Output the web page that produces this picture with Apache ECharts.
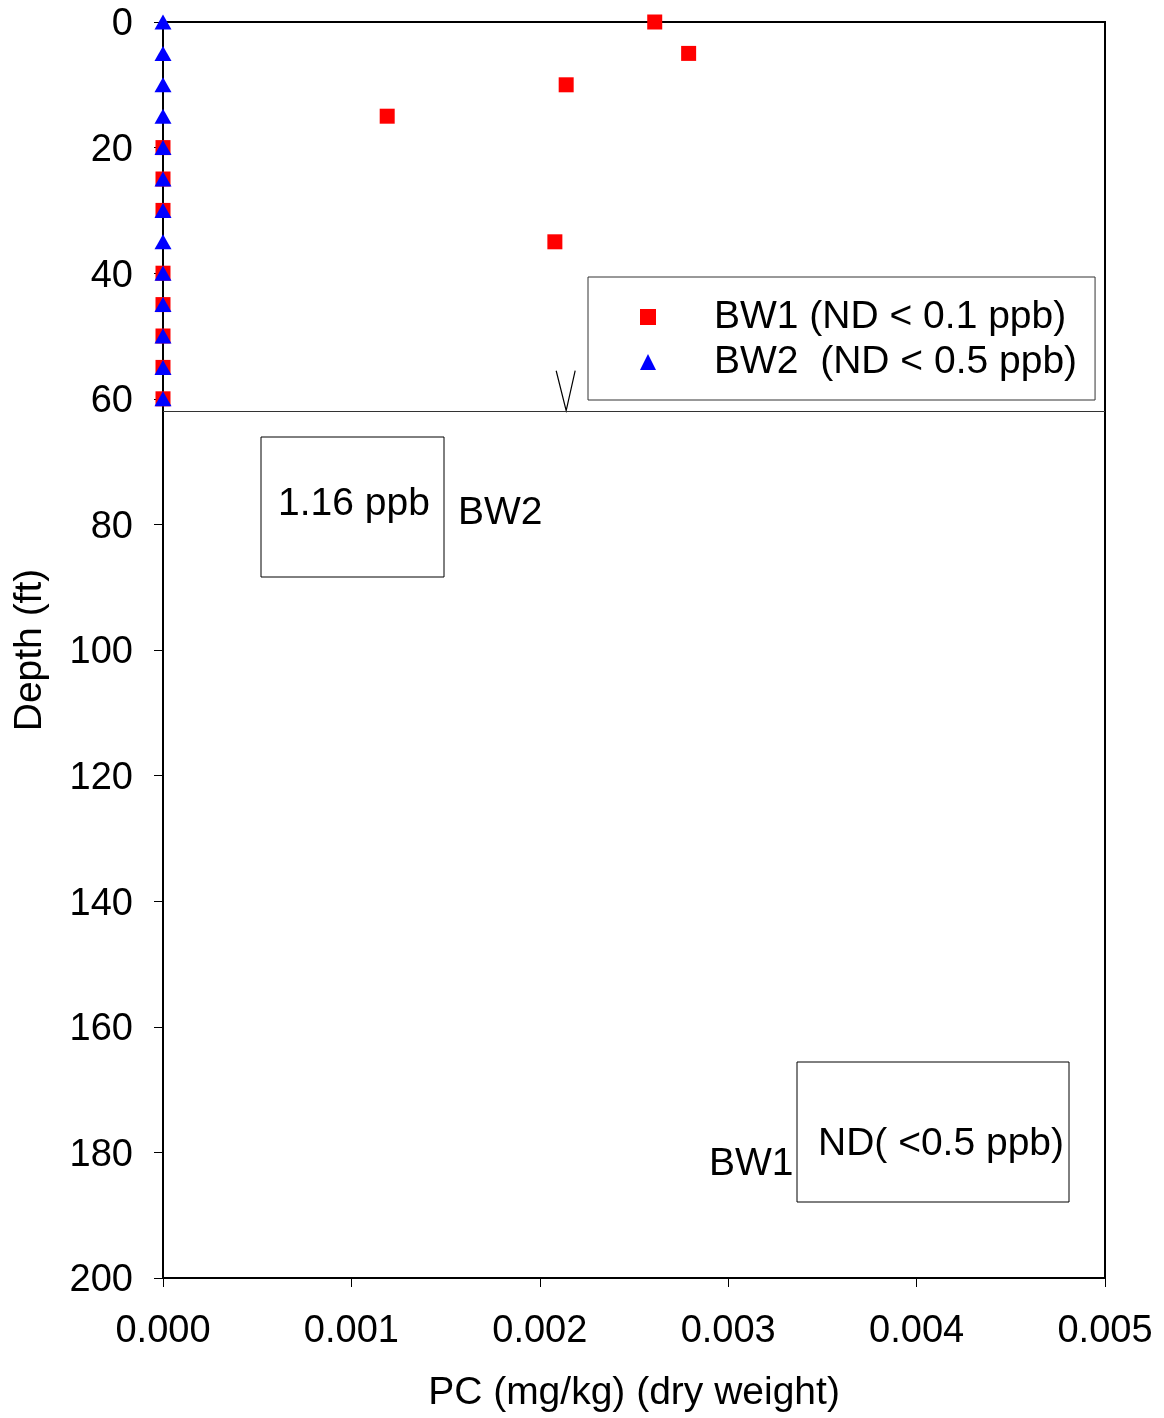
<!DOCTYPE html>
<html>
<head>
<meta charset="utf-8">
<script src="https://cdn.jsdelivr.net/npm/echarts@6/dist/echarts.min.js"></script>
<style>
	html, body { margin: 0; padding: 0; background: #fff; }
	#chart { width: 1164px; height: 1418px; }
</style>
</head>
<body>
<div id="chart"></div>
<script>
	// depth of each sample (ft)
	var depths = [0, 5, 10, 15, 20, 25, 30, 35, 40, 45, 50, 55, 60];
	// PC concentration, mg/kg dry weight (null = no sample drawn)
	var bw1Values = [0.00261, 0.00279, 0.00214, 0.00119, 0, 0, 0, 0.00208, 0, 0, 0, 0, 0];
	var bw2Values = [0, 0, 0, 0, 0, 0, 0, 0, 0, 0, 0, 0, 0];
	var seriesNames = ['BW1 (ND < 0.1 ppb)', 'BW2  (ND < 0.5 ppb)'];
	// sampled interval ends here (ft)
	var sampleBottom = 62;
	// arrow: x value, from depth, to depth
	var arrowAt = [0.00214, 54.2, 61.9];
	var notes = ['1.16 ppb', 'BW2', 'ND( <0.5 ppb)', 'BW1'];

	var FONT = "'Liberation Sans', Arial, sans-serif";

	function pairs(vals) {
		var arr = [];
		for (var i = 0; i < depths.length; i++) {
			if (vals[i] !== null) arr.push([vals[i], depths[i]]);
		}
		return arr;
	}

	var chart = echarts.init(document.getElementById('chart'));
	var option = {
		animation: false,
		backgroundColor: '#fff',
		textStyle: { fontFamily: FONT, color: '#000' },
		grid: {
			left: 163, top: 22, right: 59, bottom: 139,
			show: true, borderColor: '#000', borderWidth: 2
		},
		legend: {
			left: 588, top: 277,
			orient: 'vertical',
			itemWidth: 16, itemHeight: 16,
			itemGap: 5,
			padding: [20, 18, 18, 52],
			borderColor: '#333', borderWidth: 1,
			textStyle: { fontSize: 39, color: '#000', lineHeight: 40, padding: [0, 0, 0, 53], fontFamily: FONT },
			data: seriesNames
		},
		xAxis: {
			type: 'value',
			min: 0, max: 0.005, interval: 0.001,
			name: 'PC (mg/kg) (dry weight)',
			nameLocation: 'middle',
			nameGap: 96,
			nameTextStyle: { fontSize: 39, color: '#000', fontFamily: FONT },
			axisLine: { onZero: false, lineStyle: { color: '#000', width: 2 } },
			axisTick: { show: true, length: 9, inside: false, lineStyle: { color: '#000', width: 1 } },
			axisLabel: {
				fontSize: 38, color: '#000', margin: 35, fontFamily: FONT,
				formatter: function (v) { return v.toFixed(3); }
			},
			splitLine: { show: false }
		},
		yAxis: {
			type: 'value',
			inverse: true,
			min: 0, max: 200, interval: 20,
			name: 'Depth (ft)',
			nameLocation: 'middle',
			nameGap: 113,
			nameRotate: 90,
			nameTextStyle: { fontSize: 39, color: '#000', fontFamily: FONT },
			axisLine: { onZero: false, lineStyle: { color: '#000', width: 2 } },
			axisTick: { show: true, length: 9, inside: false, lineStyle: { color: '#000', width: 1 } },
			axisLabel: { fontSize: 38, color: '#000', margin: 30, verticalAlign: 'top', lineHeight: 6, fontFamily: FONT },
			splitLine: { show: false }
		},
		series: [
			{
				name: seriesNames[0],
				type: 'scatter',
				symbol: 'rect',
				symbolSize: 15,
				itemStyle: { color: '#ff0000', opacity: 1 },
				data: pairs(bw1Values),
				z: 3
			},
			{
				name: seriesNames[1],
				type: 'scatter',
				symbol: 'triangle',
				symbolSize: [17, 15],
				itemStyle: { color: '#0000ff', opacity: 1 },
				data: pairs(bw2Values),
				z: 4,
				markLine: {
					silent: true,
					symbol: 'none',
					label: { show: false },
					lineStyle: { color: '#333', width: 1, type: 'solid' },
					data: [{ yAxis: sampleBottom }]
				}
			}
		]
	};
	chart.setOption(option);

	// arrow and the two note boxes
	var top = chart.convertToPixel({ gridIndex: 0 }, [arrowAt[0], arrowAt[1]]);
	var tip = chart.convertToPixel({ gridIndex: 0 }, [arrowAt[0], arrowAt[2]]);
	var arrowStyle = { stroke: '#000', lineWidth: 1.2, fill: null };
	var txt = function (x, y, s, align) {
		return {
			type: 'text', x: x, y: y,
			style: { text: s, font: '39px ' + FONT, fill: '#000', align: align || 'left', verticalAlign: 'middle' }
		};
	};
	chart.setOption({
		graphic: [
			{ type: 'line', shape: { x1: top[0], y1: top[1], x2: tip[0], y2: tip[1] }, style: arrowStyle },
			{ type: 'polyline', shape: { points: [[tip[0] - 10, tip[1] - 40], [tip[0], tip[1]], [tip[0] + 9, tip[1] - 40]] }, style: arrowStyle },
			{ type: 'rect', shape: { x: 261, y: 437, width: 183, height: 140 }, style: { stroke: '#000', lineWidth: 1, fill: null } },
			txt(354, 504, notes[0], 'center'),
			txt(458, 513, notes[1]),
			{ type: 'rect', shape: { x: 797, y: 1062, width: 272, height: 140 }, style: { stroke: '#000', lineWidth: 1, fill: null } },
			txt(941, 1144, notes[2], 'center'),
			txt(709, 1164, notes[3])
		]
	});
</script>
</body>
</html>
